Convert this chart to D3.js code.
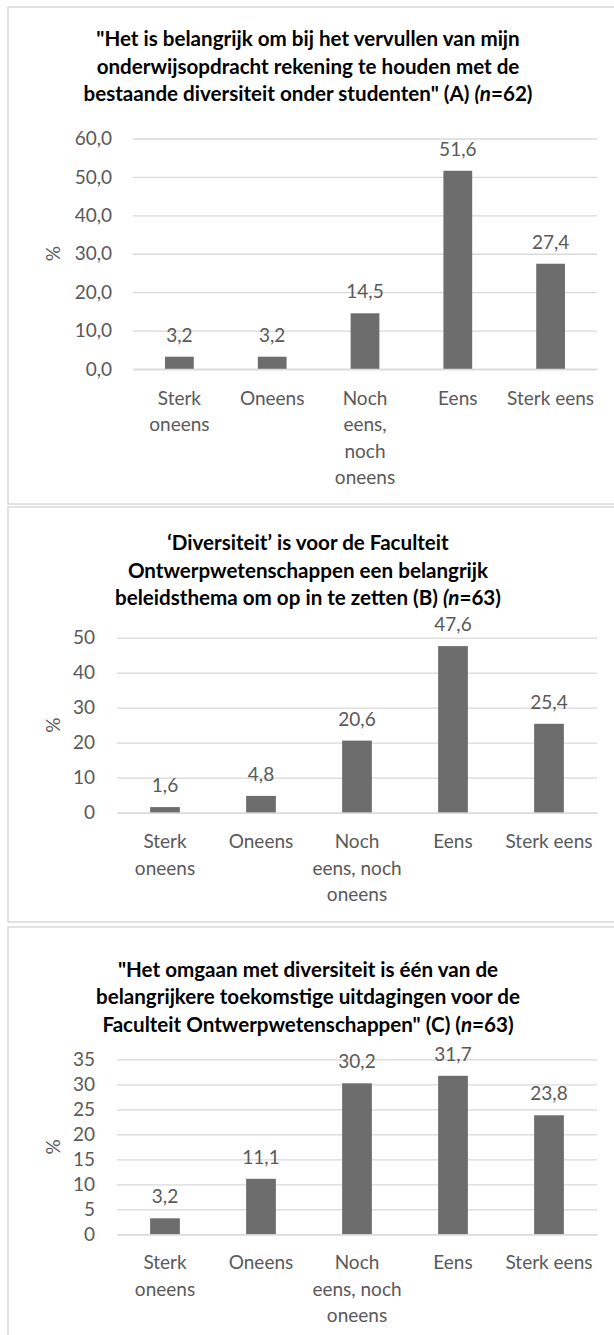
<!DOCTYPE html>
<html><head><meta charset="utf-8">
<script src="https://cdnjs.cloudflare.com/ajax/libs/d3/7.8.5/d3.min.js"></script>
<style>
html,body{margin:0;padding:0;background:#fff;}
svg{display:block;}
text{font-family:Lato,"Open Sans",sans-serif;}
</style></head>
<body>
<svg id="chart" width="614" height="1335"></svg>
<script>
// ---- data ----
const categories = ["Sterk oneens", "Oneens", "Noch eens, noch oneens", "Eens", "Sterk eens"];
const labelLinesA = [["Sterk", "oneens"], ["Oneens"], ["Noch", "eens,", "noch", "oneens"], ["Eens"], ["Sterk eens"]];
const labelLinesBC = [["Sterk", "oneens"], ["Oneens"], ["Noch", "eens, noch", "oneens"], ["Eens"], ["Sterk eens"]];
const valuesA = [3.2, 3.2, 14.5, 51.6, 27.4];
const valuesB = [1.6, 4.8, 20.6, 47.6, 25.4];
const valuesC = [3.2, 11.1, 30.2, 31.7, 23.8];
const ticksA = [0, 10, 20, 30, 40, 50, 60];
const ticksB = [0, 10, 20, 30, 40, 50];
const ticksC = [0, 5, 10, 15, 20, 25, 30, 35];
const titleA = [[['"Het is belangrijk om bij het vervullen van mijn', false]],
                [['onderwijsopdracht rekening te houden met de', false]],
                [['bestaande diversiteit onder studenten" (A) ', false], ['(n', true], ['=62)', false]]];
const titleB = [[['\u2018Diversiteit\u2019 is voor de Faculteit', false]],
                [['Ontwerpwetenschappen een belangrijk', false]],
                [['beleidsthema om op in te zetten (B) ', false], ['(n', true], ['=63)', false]]];
const titleC = [[['"Het omgaan met diversiteit is \u00e9\u00e9n van de', false]],
                [['belangrijkere toekomstige uitdagingen voor de', false]],
                [['Faculteit Ontwerpwetenschappen" (C) (', false], ['n', true], ['=63)', false]]];
const yAxisLabel = "%";

// ---- drawing ----
const svg = d3.select("#chart");
const TXT = "#595959", GRID = "#d9d9d9", BAR = "#6d6d6d";
const fmt1 = v => d3.format(".1f")(v).replace(".", ",");
const fmt0 = v => d3.format("d")(v);

function panel(cfg) {
  svg.append("rect").attr("x", 8).attr("y", cfg.boxTop).attr("width", 640).attr("height", cfg.boxH)
    .attr("fill", "#fff").attr("stroke", GRID).attr("stroke-width", 1.5);

  // title
  const t = svg.append("text").attr("text-anchor", "middle").attr("font-weight", "bold")
    .attr("font-size", cfg.titleSize).attr("fill", "#000");
  cfg.title.forEach((line, i) => {
    line.forEach((seg, j) => {
      const ts = t.append("tspan").text(seg[0]).attr("font-style", seg[1] ? "italic" : "normal");
      if (j === 0) ts.attr("x", 308).attr("y", cfg.titleY[i]).attr("dy", "0.35em");
    });
  });

  const x = d3.scaleBand().domain(categories).range([cfg.left, 597]).paddingInner(0.69).paddingOuter(0.345);
  const y = d3.scaleLinear().domain([0, d3.max(cfg.ticks)]).range([cfg.y0, cfg.yTop]);

  const g = svg.append("g");
  // gridlines via axis
  const gridAxis = d3.axisLeft(y).tickValues(cfg.ticks).tickSize(-(597 - cfg.left)).tickFormat("");
  const gg = g.append("g").attr("transform", `translate(${cfg.left},0)`).call(gridAxis);
  gg.select(".domain").remove();
  gg.selectAll("line").attr("stroke", GRID).attr("stroke-width", 1.3);

  // y tick labels
  const yAxis = d3.axisLeft(y).tickValues(cfg.ticks).tickSize(0).tickPadding(cfg.tickPad).tickFormat(cfg.fmt);
  const ya = g.append("g").attr("transform", `translate(${cfg.left},0)`).call(yAxis);
  ya.select(".domain").remove();
  ya.selectAll("text").attr("fill", TXT).attr("font-size", 19).attr("font-family", "Lato");

  // bars
  g.selectAll(".bar").data(cfg.values).enter().append("rect")
    .attr("x", (d, i) => x(categories[i])).attr("width", x.bandwidth())
    .attr("y", d => y(d)).attr("height", d => y(0) - y(d)).attr("fill", BAR);

  // value labels
  g.selectAll(".val").data(cfg.values).enter().append("text")
    .attr("x", (d, i) => x(categories[i]) + x.bandwidth() / 2)
    .attr("y", d => y(d) - 21.5).attr("dy", "0.35em")
    .attr("text-anchor", "middle").attr("font-size", 19).attr("fill", TXT)
    .text(d => fmt1(d));

  // x labels
  const xa = d3.axisBottom(x).tickSize(0).tickFormat("");
  const xg = g.append("g").attr("transform", `translate(0,${cfg.y0})`).call(xa);
  xg.select(".domain").attr("stroke", GRID).attr("stroke-width", 1.3);
  categories.forEach((c, i) => {
    const tx = g.append("text").attr("text-anchor", "middle").attr("font-size", 19).attr("fill", TXT);
    cfg.labels[i].forEach((ln, k) => {
      tx.append("tspan").attr("x", x(c) + x.bandwidth() / 2).attr("y", cfg.labelY + k * 26.5).attr("dy", "0.35em").text(ln);
    });
  });

  // y axis title
  g.append("text").attr("transform", `translate(53.5,${(cfg.y0 + cfg.yTop) / 2}) rotate(-90)`)
    .attr("text-anchor", "middle").attr("dy", "0.35em").attr("font-size", 19).attr("fill", TXT).text(yAxisLabel);
}

panel({boxTop: 7, boxH: 497, title: titleA, titleSize: 20.6, titleY: [39, 66.5, 94],
  left: 133, y0: 369, yTop: 138.5, ticks: ticksA, fmt: fmt1, tickPad: 21, values: valuesA,
  labels: labelLinesA, labelY: 398});
panel({boxTop: 507, boxH: 415, title: titleB, titleSize: 20.6, titleY: [543, 571, 598],
  left: 117, y0: 812.7, yTop: 637.7, ticks: ticksB, fmt: fmt0, tickPad: 22, values: valuesB,
  labels: labelLinesBC, labelY: 841.7});
panel({boxTop: 927, boxH: 460, title: titleC, titleSize: 20.6, titleY: [970, 997, 1025],
  left: 117, y0: 1234.3, yTop: 1059.3, ticks: ticksC, fmt: fmt0, tickPad: 22, values: valuesC,
  labels: labelLinesBC, labelY: 1262.7});
</script>
</body></html>
